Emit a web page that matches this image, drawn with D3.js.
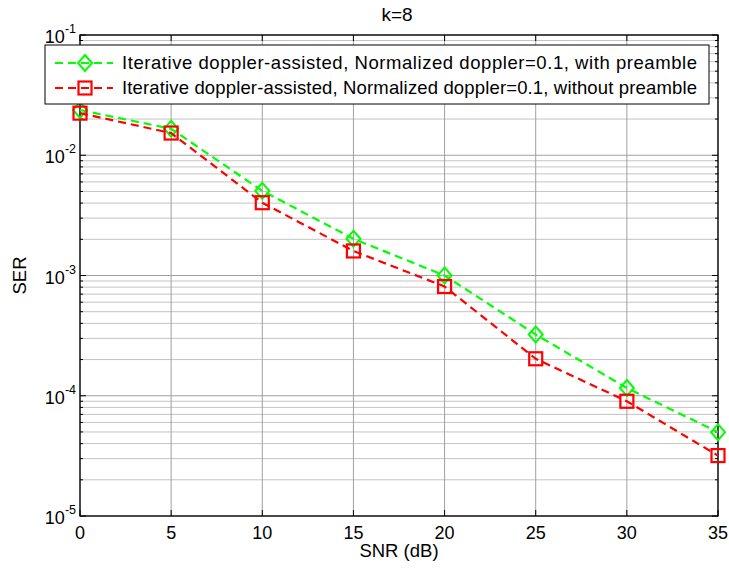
<!DOCTYPE html>
<html lang="en">
<head>
  <meta charset="utf-8">
  <title>k=8</title>
  <script src="https://d3js.org/d3.v7.min.js"></script>
  <style>
    body { margin: 0; background: #fff; }
    text { font-family: "Liberation Sans", Arial, sans-serif; fill: #000; }
  </style>
</head>
<body>
<div id="chart"></div>
<script>
  // data
  var snr = [0, 5, 10, 15, 20, 25, 30, 35];
  var withPreamble = [0.0238, 0.0166, 0.00506, 0.00202, 0.00100, 0.000323, 0.000116, 0.0000498];
  var withoutPreamble = [0.0224, 0.0153, 0.00403, 0.00160, 0.00081, 0.000203, 0.0000900, 0.0000318];
  var xTicks = [0, 5, 10, 15, 20, 25, 30, 35];
  var yExps = [-1, -2, -3, -4, -5];
  var seriesNames = [
    "Iterative doppler-assisted, Normalized doppler=0.1, with preamble",
    "Iterative doppler-assisted, Normalized doppler=0.1, without preamble"
  ];

  var W = 729, H = 569;
  var margin = { top: 35, right: 11, bottom: 53, left: 80 };
  var width = W - margin.left - margin.right,
      height = H - margin.top - margin.bottom;

  var svg = d3.select("#chart").append("svg")
    .attr("width", W).attr("height", H);
  var g = svg.append("g")
    .attr("transform", "translate(" + margin.left + "," + margin.top + ")");

  var x = d3.scaleLinear().domain([0, 35]).range([0, width]);
  var y = d3.scaleLog().domain([1e-5, 1e-1]).range([height, 0]);

  // grid
  var minor = [];
  for (var e = -5; e < -1; e++) {
    for (var m = 2; m <= 9; m++) minor.push(m * Math.pow(10, e));
  }
  g.append("g").selectAll("line").data(minor).enter().append("line")
    .attr("x1", 0).attr("x2", width)
    .attr("y1", function (d) { return y(d); }).attr("y2", function (d) { return y(d); })
    .attr("stroke", "#c4c4c4").attr("stroke-width", 1);
  g.append("g").selectAll("line").data(yExps).enter().append("line")
    .attr("x1", 0).attr("x2", width)
    .attr("y1", function (d) { return y(Math.pow(10, d)); }).attr("y2", function (d) { return y(Math.pow(10, d)); })
    .attr("stroke", "#a0a0a0").attr("stroke-width", 1);
  g.append("g").selectAll("line").data(xTicks).enter().append("line")
    .attr("x1", function (d) { return x(d); }).attr("x2", function (d) { return x(d); })
    .attr("y1", 0).attr("y2", height)
    .attr("stroke", "#a0a0a0").attr("stroke-width", 1);

  // tick marks (inside, all four sides)
  var tk = g.append("g").attr("stroke", "#000").attr("stroke-width", 1);
  xTicks.forEach(function (d) {
    tk.append("line").attr("x1", x(d)).attr("x2", x(d)).attr("y1", height).attr("y2", height - 6);
    tk.append("line").attr("x1", x(d)).attr("x2", x(d)).attr("y1", 0).attr("y2", 6);
  });
  yExps.forEach(function (d) {
    var yy = y(Math.pow(10, d));
    tk.append("line").attr("x1", 0).attr("x2", 6).attr("y1", yy).attr("y2", yy);
    tk.append("line").attr("x1", width).attr("x2", width - 6).attr("y1", yy).attr("y2", yy);
  });
  minor.forEach(function (d) {
    var yy = y(d);
    tk.append("line").attr("x1", 0).attr("x2", 3).attr("y1", yy).attr("y2", yy);
    tk.append("line").attr("x1", width).attr("x2", width - 3).attr("y1", yy).attr("y2", yy);
  });

  // frame
  g.append("rect").attr("x", 0).attr("y", 0).attr("width", width).attr("height", height)
    .attr("fill", "none").attr("stroke", "#000").attr("stroke-width", 1.3);

  // x tick labels
  g.append("g").selectAll("text").data(xTicks).enter().append("text")
    .attr("x", function (d) { return x(d); }).attr("y", height + 23)
    .attr("text-anchor", "middle").style("font-size", "18px")
    .text(function (d) { return d; });

  // y tick labels 10^n
  var yl = g.append("g").selectAll("text").data(yExps).enter().append("text")
    .attr("x", -4).attr("y", function (d) { return y(Math.pow(10, d)) + 8; })
    .attr("text-anchor", "end").style("font-size", "18px");
  yl.append("tspan").text("10");
  yl.append("tspan").attr("dy", -10).style("font-size", "12.5px")
    .text(function (d) { return "-" + Math.abs(d); });

  // axis labels and title
  svg.append("text").attr("x", margin.left + width / 2).attr("y", 557)
    .attr("text-anchor", "middle").style("font-size", "18.5px").text("SNR (dB)");
  svg.append("text").attr("transform", "translate(26," + (margin.top + height / 2) + ") rotate(-90)")
    .attr("text-anchor", "middle").style("font-size", "18.5px").text("SER");
  svg.append("text").attr("x", margin.left + width / 2 - 2).attr("y", 21)
    .attr("text-anchor", "middle").style("font-size", "19px").text("k=8");

  // series
  var colors = ["#00ff00", "#ff0000"];
  var allData = [withPreamble, withoutPreamble];
  var line = d3.line()
    .x(function (d, i) { return x(snr[i]); })
    .y(function (d) { return y(d); });

  function drawMarker(sel, k, cx, cy) {
    if (k === 0) {
      sel.append("path")
        .attr("d", "M" + cx + "," + (cy - 8) + "L" + (cx + 7) + "," + cy + "L" + cx + "," + (cy + 8) + "L" + (cx - 7) + "," + cy + "Z")
        .attr("fill", "none").attr("stroke", colors[k]).attr("stroke-width", 2);
    } else {
      sel.append("rect").attr("x", cx - 6.5).attr("y", cy - 6.5).attr("width", 13).attr("height", 13)
        .attr("fill", "none").attr("stroke", colors[k]).attr("stroke-width", 2.2);
    }
  }

  allData.forEach(function (vals, k) {
    g.append("path").datum(vals)
      .attr("d", line).attr("fill", "none")
      .attr("stroke", colors[k]).attr("stroke-width", 2.2)
      .attr("stroke-dasharray", "8,5");
    var mg = g.append("g");
    vals.forEach(function (v, i) { drawMarker(mg, k, x(snr[i]), y(v)); });
  });

  // legend
  var lg = svg.append("g");
  lg.append("rect").attr("x", 45).attr("y", 45).attr("width", 664).attr("height", 59)
    .attr("fill", "#fff").attr("stroke", "#000").attr("stroke-width", 1);
  seriesNames.forEach(function (name, k) {
    var ly = 63 + k * 25;
    lg.append("line").attr("x1", 55).attr("x2", 113).attr("y1", ly).attr("y2", ly)
      .attr("stroke", colors[k]).attr("stroke-width", 2.2).attr("stroke-dasharray", "8,5");
    drawMarker(lg, k, 85, ly);
    lg.append("text").attr("x", 122).attr("y", ly + 6).style("font-size", "18.5px")
      .attr("textLength", 575).attr("lengthAdjust", "spacing").text(name);
  });
</script>
</body>
</html>
